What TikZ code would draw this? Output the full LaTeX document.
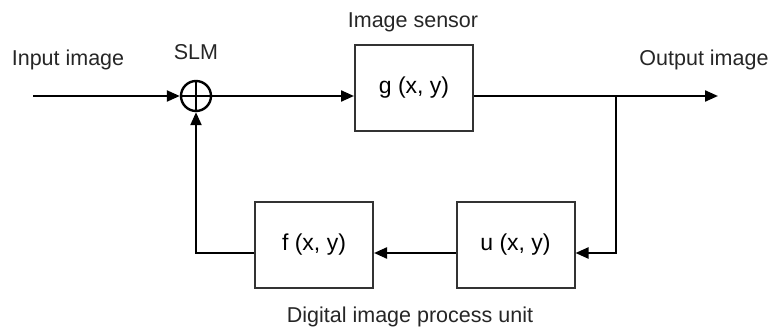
\documentclass[tikz,border=0pt]{standalone}
\usepackage{fontspec}
\setmainfont{Liberation Sans}
\usetikzlibrary{arrows.meta}

\tikzset{
  blk/.style={draw=black!80, line width=2pt, minimum width=118pt, minimum height=86pt, inner sep=0pt,
    font=\fontsize{23}{27}\selectfont},
  lbl/.style={text=black!85, inner sep=0pt},
  sig/.style={line width=2.2pt, -{Triangle[length=13pt, width=11pt]}},
}

\begin{document}
\begin{tikzpicture}[x=1pt, y=-1pt, font=\fontsize{21.5}{25}\selectfont]
  \useasboundingbox (0,0) rectangle (771,329);
  % blocks
  \node[blk] (g) at (414,88) {g (x, y)};
  \node[blk] (f) at (314,245) {f (x, y)};
  \node[blk] (u) at (515.5,245) {u (x, y)};
  \node[circle, draw, line width=2.4pt, minimum size=30pt, inner sep=0pt] (sum) at (196,96) {};
  \draw[line width=2.4pt] (sum.north) -- (sum.south) (sum.west) -- (sum.east);
  % labels
  \node[lbl] (inlbl) at (68,60) {Input image};
  \node[lbl] (slm) at (196,52) {SLM};
  \node[lbl] (sensor) at (413,22) {Image sensor};
  \node[lbl] (outlbl) at (704,60) {Output image};
  \node[lbl] (unit) at (410,317) {Digital image process unit};
  % signal path
  \coordinate (in) at (33,96);
  \coordinate (out) at (718,96);
  \coordinate (tap) at (616,96);
  \coordinate (fb) at (616,253);
  \draw[sig] (in) -- (sum.west);
  \draw[sig] (sum.east) -- (g.west |- sum);
  \draw[sig] (g.east |- sum) -- (out);
  \draw[sig] (tap) -- (fb) -- (u.east |- fb);
  \draw[sig] (u.west |- fb) -- (f.east |- fb);
  \draw[sig] (f.west |- fb) -| (sum.south);
\end{tikzpicture}
\end{document}
